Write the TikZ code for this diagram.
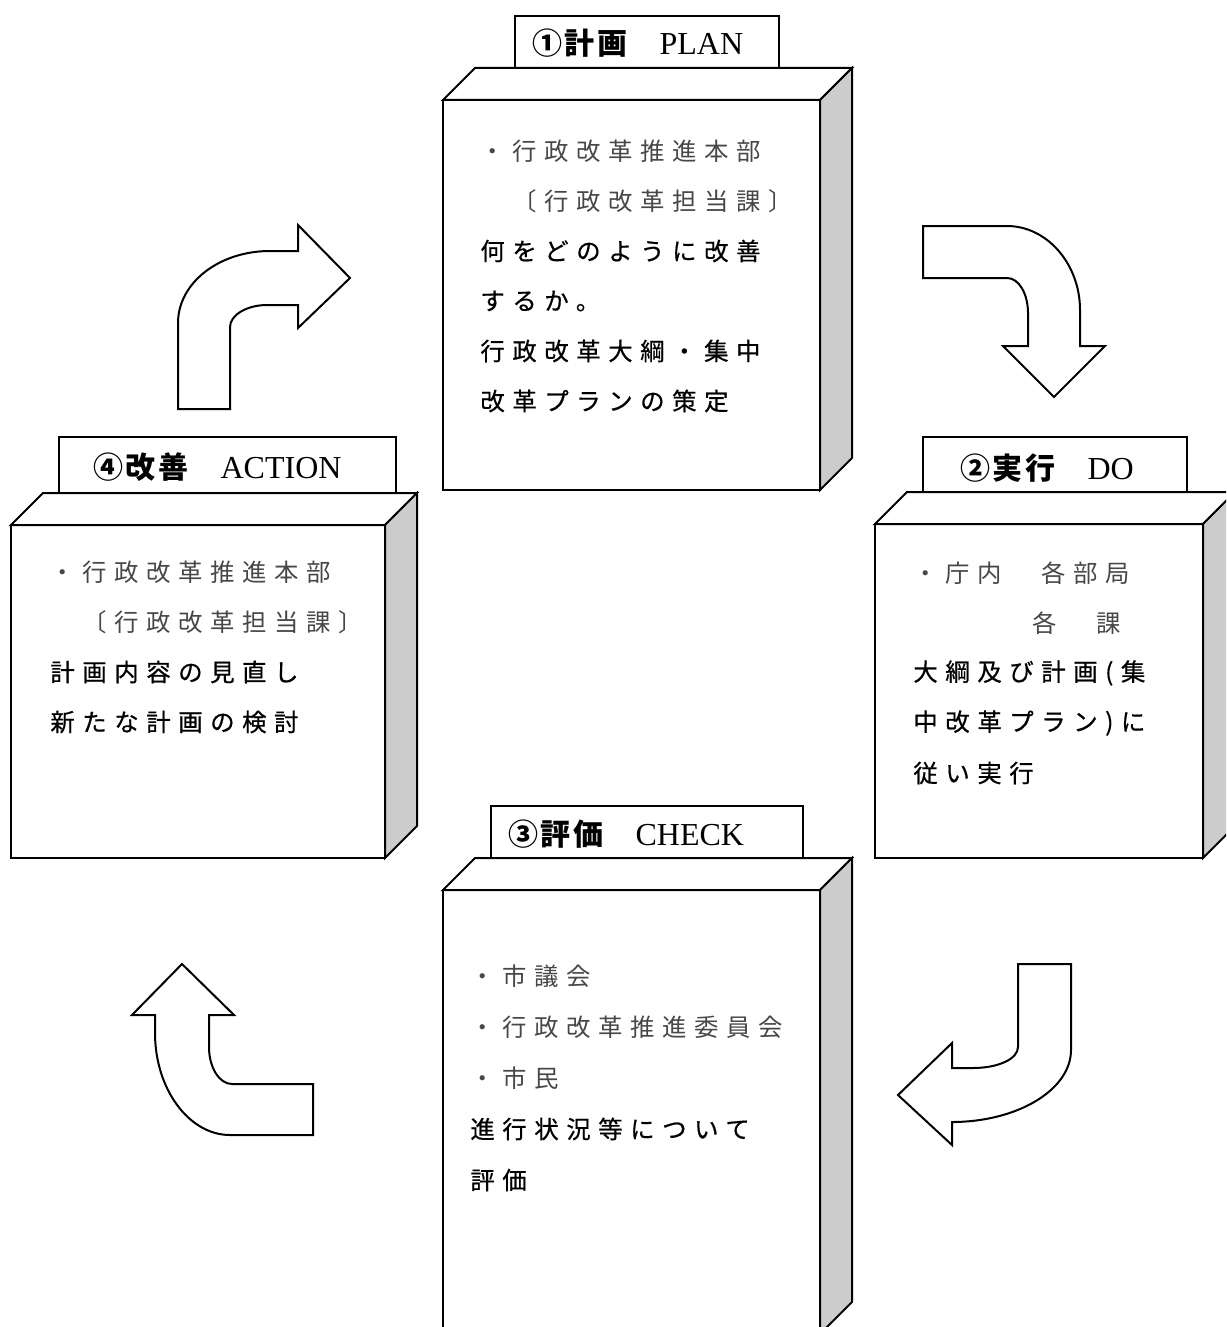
\documentclass[tikz,border=0pt]{standalone}
\usepackage{fontspec}
\setmainfont{Liberation Serif}
\newfontfamily\jpthin{Noto Sans CJK JP}[LetterSpace=31]
\newfontfamily\jpdark{Noto Sans CJK JP}[LetterSpace=31,FakeBold=0.6]
\newfontfamily\jphead{Noto Sans CJK JP}[LetterSpace=8]
\definecolor{sidegray}{RGB}{204,204,204}
\tikzset{
  face/.style={draw, line width=1pt, fill=white, line join=miter},
  sideface/.style={draw, line width=1pt, fill=sidegray, line join=miter},
  bentarrow/.style={draw, line width=1pt, fill=white, line join=miter},
  thinline/.style={anchor=west, inner sep=0pt, font=\fontsize{12.2}{14}\jpthin, text=black!72},
  darkline/.style={anchor=west, inner sep=0pt, font=\fontsize{12.2}{14}\jpdark, text=black},
  headline/.style={anchor=west, inner sep=0pt, font=\fontsize{16}{18}\selectfont},
}
\newcommand\headjp[1]{{\fontsize{15}{17}\jphead\bfseries #1}}
% #1 left, #2 top, #3 right, #4 bottom of the front face
\newcommand\cubebox[4]{%
  \draw[face] (#1,#2) rectangle (#3,#4);
  \draw[face] (#1,#2) -- (#1+32,#2-32) -- (#3+32,#2-32) -- (#3,#2) -- cycle;
  \draw[sideface] (#3,#2) -- (#3+32,#2-32) -- (#3+32,#4-32) -- (#3,#4) -- cycle;
}
\begin{document}
\begin{tikzpicture}[x=0.5pt,y=-0.5pt]
\useasboundingbox (0,0) rectangle (1226,1327);
\clip (0,0) rectangle (1226,1327);

% ---------- tabs ----------
\draw[face] (515,16) rectangle (779,68);
\draw[face] (59,437) rectangle (396,493);
\draw[face] (923,437) rectangle (1187,492);
\draw[face] (491,806) rectangle (803,858);

% ---------- boxes ----------
\cubebox{443}{100}{820}{490}
\cubebox{11}{525}{385}{858}
\cubebox{875}{524}{1203}{858}
\cubebox{443}{890}{820}{1334}

% ---------- bent arrows ----------
% top left (ACTION -> PLAN)
\draw[bentarrow] (178,409) -- (178,323) .. controls (178,283) and (219,251) .. (270,251)
  -- (298,251) -- (298,225) -- (350,278) -- (298,328) -- (298,305) -- (267,305)
  .. controls (247,305) and (230,315) .. (230,327) -- (230,409) -- cycle;
% top right (PLAN -> DO)
\draw[bentarrow] (923,226) -- (1007,226) .. controls (1047,226) and (1080,264) .. (1080,310)
  -- (1080,346) -- (1105,346) -- (1054,397) -- (1003,346) -- (1028,346) -- (1028,313)
  .. controls (1028,294) and (1019,278) .. (1007,278) -- (923,278) -- cycle;
% bottom right (DO -> CHECK)
\draw[bentarrow] (1018,964) -- (1071,964) -- (1071,1050) .. controls (1071,1090) and (1017,1122) .. (952,1122)
  -- (952,1145) -- (898,1095) -- (952,1043) -- (952,1068) -- (973,1068)
  .. controls (998,1068) and (1018,1059) .. (1018,1047) -- cycle;
% bottom left (CHECK -> ACTION)
\draw[bentarrow] (182,964) -- (234,1015) -- (209,1015) -- (209,1047)
  .. controls (209,1067) and (219,1084) .. (232,1084) -- (313,1084) -- (313,1135) -- (230,1135)
  .. controls (189,1135) and (155,1089) .. (155,1033) -- (155,1015) -- (132,1015) -- cycle;

% ---------- headers ----------
\node[headline] (planhead) at (532,43) {\headjp{①計画　}PLAN};
\node[headline] (actionhead) at (93,467) {\headjp{④改善　}ACTION};
\node[headline] (dohead) at (960,468) {\headjp{②実行　}DO};
\node[headline] (checkhead) at (508,834) {\headjp{③評価　}CHECK};

% ---------- PLAN text ----------
\node[thinline] (p1) at (480,151) {・行政改革推進本部};
\node[thinline] (p2) at (512,201) {〔行政改革担当課〕};
\node[darkline] (p3) at (480,251) {何をどのように改善};
\node[darkline] (p4) at (480,301) {するか。};
\node[darkline] (p5) at (480,351) {行政改革大綱・集中};
\node[darkline] (p6) at (480,401) {改革プランの策定};

% ---------- DO text ----------
\node[thinline] (d1) at (913,573) {・庁内　各部局};
\node[thinline] (d2) at (1032,623) {各　課};
\node[darkline] (d3) at (913,673) {大綱及び計画(集};
\node[darkline] (d4) at (913,723) {中改革プラン)に};
\node[darkline] (d5) at (913,773) {従い実行};

% ---------- ACTION text ----------
\node[thinline] (a1) at (50,572) {・行政改革推進本部};
\node[thinline] (a2) at (82,622) {〔行政改革担当課〕};
\node[darkline] (a3) at (50,672) {計画内容の見直し};
\node[darkline] (a4) at (50,722) {新たな計画の検討};

% ---------- CHECK text ----------
\node[thinline] (c1) at (470,976) {・市議会};
\node[thinline] (c2) at (470,1027) {・行政改革推進委員会};
\node[thinline] (c3) at (470,1078) {・市民};
\node[darkline] (c4) at (470,1129) {進行状況等について};
\node[darkline] (c5) at (470,1180) {評価};
\end{tikzpicture}
\end{document}
